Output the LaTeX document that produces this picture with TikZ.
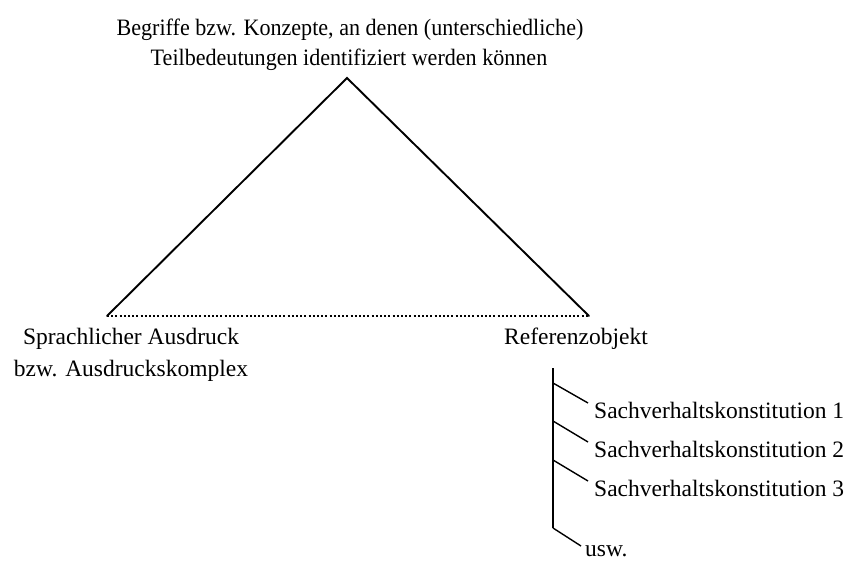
\documentclass[tikz,border=0pt]{standalone}
\usepackage{graphicx}
\usepackage{fontspec}
\setmainfont{Liberation Serif}
\begin{document}
\begin{tikzpicture}[x=1pt,y=-1pt,
  lbl/.style={font=\fontsize{23.5}{31}\selectfont, inner sep=0pt, anchor=base},
  lbll/.style={lbl, anchor=base west},
  edge/.style={line width=1.9pt, line cap=round},
  thin/.style={line width=1.4pt},
  dots/.style={line width=2.3pt, dash pattern=on 2pt off 2.2pt}]
\useasboundingbox (0,0) rectangle (852,563);
% triangle corners
\coordinate (apex) at (347,78);
\coordinate (L) at (107,316);
\coordinate (R) at (589,316);
\draw[edge] (L) -- (apex) -- (R);
\draw[dots] (L) -- (R);
% labels
\node[lbl] (t1) at (350,35) {\scalebox{0.94}[1]{Begriffe bzw. Konzepte, an denen (unterschiedliche)}};
\node[lbl] (t2) at (349,65) {\scalebox{0.94}[1]{Teilbedeutungen identifiziert werden können}};
\node[lbl] (s1) at (131,344) {Sprachlicher Ausdruck};
\node[lbl] (s2) at (131,376) {bzw. Ausdruckskomplex};
\node[lbl] (ro) at (576,344) {Referenzobjekt};
\node[lbll] (k1) at (594,418) {Sachverhaltskonstitution 1};
\node[lbll] (k2) at (594,457) {Sachverhaltskonstitution 2};
\node[lbll] (k3) at (594,496) {Sachverhaltskonstitution 3};
\node[lbll] (usw) at (585,556) {usw.};
% tree
\coordinate (vt) at (553,368);
\coordinate (b1) at (553,383);
\coordinate (b2) at (553,421);
\coordinate (b3) at (553,460);
\coordinate (b4) at (553,528);
\coordinate (e1) at (588,403);
\coordinate (e2) at (588,442);
\coordinate (e3) at (588,481);
\coordinate (e4) at (581,546);
\draw[thin] (vt) -- (b4);
\draw[thin] (b1) -- (e1);
\draw[thin] (b2) -- (e2);
\draw[thin] (b3) -- (e3);
\draw[thin] (b4) -- (e4);
\end{tikzpicture}
\end{document}
